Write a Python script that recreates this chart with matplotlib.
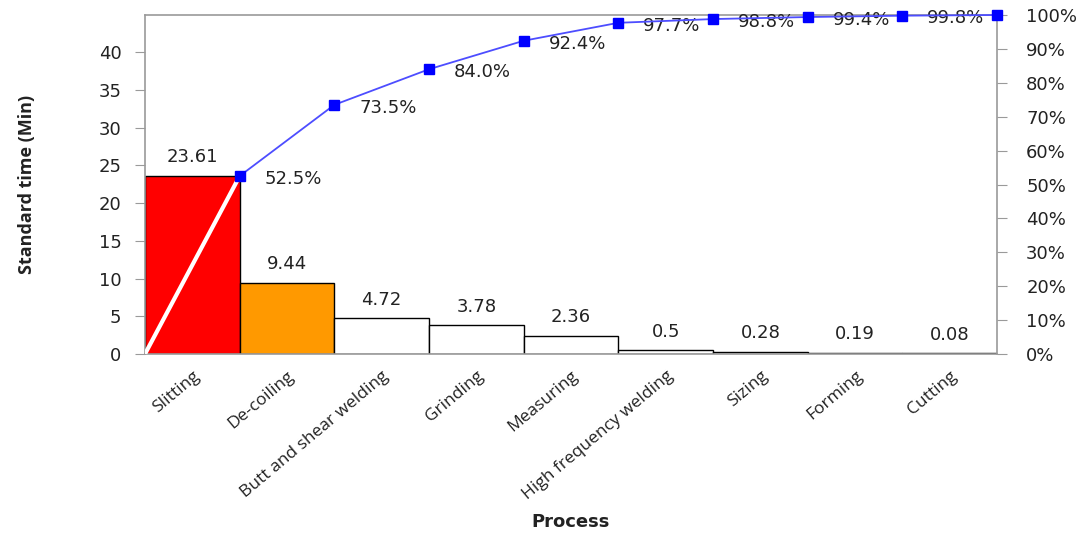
import numpy as np
import matplotlib.pyplot as plt

# Pareto data
processes = ['Slitting', 'De-coiling', 'Butt and shear welding', 'Grinding',
             'Measuring', 'High frequency welding', 'Sizing', 'Forming', 'Cutting']
std_time = [23.61, 9.44, 4.72, 3.78, 2.36, 0.5, 0.28, 0.19, 0.08]
cum_pct = [52.5, 73.5, 84.0, 92.4, 97.7, 98.8, 99.4, 99.8, 100.0]
bar_labels = ['23.61', '9.44', '4.72', '3.78', '2.36', '0.5', '0.28', '0.19', '0.08']
bar_colors = ['#ff0000', '#ff9900'] + ['white'] * 7

spine_col = '#9a9a9a'
txt_col = '#222222'
fs = 13

fig = plt.figure(figsize=(10.83, 5.39), dpi=100)
ax = fig.add_axes([145 / 1083, 1 - 354 / 539, 852 / 1083, 339 / 539])

x = np.arange(len(processes))
ax.bar(x, std_time, width=1.0, color=bar_colors, edgecolor='black', linewidth=1.0, zorder=2)
for xi, v, lab in zip(x, std_time, bar_labels):
    ax.annotate(lab, (xi, v), xytext=(0, 7), textcoords='offset points',
                ha='center', va='bottom', fontsize=fs, color=txt_col)

ax.set_xlim(-0.5, len(processes) - 0.5)
ax.set_ylim(0, sum(std_time))
ax.set_yticks(np.arange(0, 41, 5))
ax.tick_params(axis='y', labelsize=fs, colors=spine_col, labelcolor=txt_col, length=7, pad=10)
ax.set_xticks(x)
ax.set_xticklabels(processes, rotation=40, ha='right', rotation_mode='anchor',
                   fontsize=12.5, color=txt_col, family='Open Sans')
ax.tick_params(axis='x', length=0, pad=10)
for s in ax.spines.values():
    s.set_color(spine_col)
    s.set_linewidth(1.2)

ax.set_ylabel('Standard time (Min)', fontsize=13, fontweight='bold', family='Open Sans',
              color=txt_col)
ax.yaxis.set_label_coords(-0.128, 0.5)
ax.set_xlabel('Process', fontsize=13, fontweight='bold', color=txt_col)
ax.xaxis.set_label_coords(0.5, -0.47)

# cumulative percentage on the right axis
ax2 = ax.twinx()
ax2.set_ylim(0, 100)
ax2.set_yticks(np.arange(0, 101, 10))
ax2.set_yticklabels([f'{t}%' for t in range(0, 101, 10)])
ax2.tick_params(axis='y', labelsize=fs, colors=spine_col, labelcolor=txt_col, length=7, pad=14)
for s in ax2.spines.values():
    s.set_visible(False)

xr = x + 0.5
ax2.plot([-0.5, xr[0]], [0, cum_pct[0]], color='white', lw=3, zorder=3)
ax2.plot(xr, cum_pct, color='#4d4dff', lw=1.3, marker='s', markersize=7,
         markerfacecolor='#0000ff', markeredgecolor='#0000ff', zorder=4, clip_on=False)
for xi, p in zip(xr[:-1], cum_pct[:-1]):
    ax2.annotate(f'{p:.1f}%', (xi, p), xytext=(18, -2), textcoords='offset points',
                 ha='left', va='center', fontsize=fs, color=txt_col)

fig.savefig('out.png', dpi=100)
